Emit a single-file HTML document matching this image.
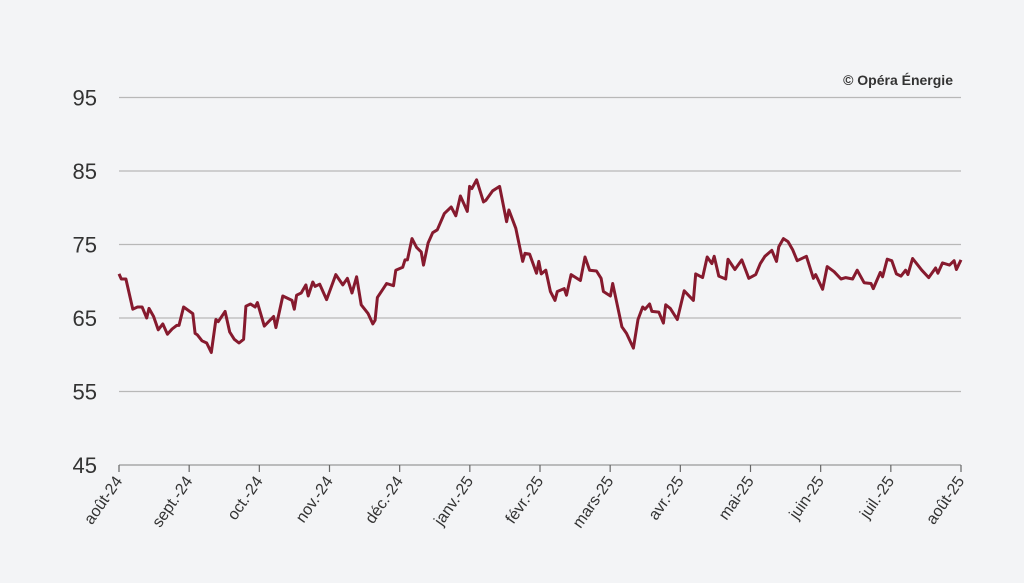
<!DOCTYPE html>
<html><head><meta charset="utf-8"><style>
html,body{margin:0;padding:0;background:#f3f4f6;}
svg{display:block;font-family:"Liberation Sans",sans-serif;}
</style></head><body>
<svg id="chart" width="1024" height="583" viewBox="0 0 1024 583" xmlns="http://www.w3.org/2000/svg">
<rect x="0" y="0" width="1024" height="583" fill="#f3f4f6"/>
<text x="953" y="85" text-anchor="end" font-size="14" font-weight="bold" fill="#333">© Opéra Énergie</text>
<g id="grid"></g><g id="yaxis"></g><g id="xaxis"></g><g id="series"></g>
</svg>
<script>
const yTicks=[45,55,65,75,85,95];
const monthLabels=["août-24","sept.-24","oct.-24","nov.-24","déc.-24","janv.-25","févr.-25","mars-25","avr.-25","mai-25","juin-25","juil.-25","août-25"];
const days=[0,1,3,6,8,10,12,13,15,17,19,21,23,25,26,28,32,33,34,36,38,40,42,43,46,48,50,52,54,55,57,59,60,63,67,68,71,75,76,77,79,81,82,84,85,87,90,94,97,99,101,103,105,108,110,111,112,115,116,119,120,123,124,125,127,129,131,132,134,136,138,141,144,146,148,151,152,153,155,158,159,162,165,168,169,172,175,176,178,181,182,183,185,187,189,190,193,194,196,200,202,204,207,209,210,213,214,218,220,223,225,227,228,230,231,234,236,237,239,242,245,249,250,253,255,257,258,260,263,264,267,270,273,276,278,280,283,285,286,288,290,292,294,298,301,302,305,307,310,313,315,318,320,323,326,327,330,331,333,335,337,339,341,342,344,346,348,351,354,355,357,360,362,363,365];
const values=[71.0,70.3,70.3,66.2,66.5,66.5,65.0,66.3,65.2,63.4,64.2,62.8,63.5,64.0,64.0,66.5,65.6,62.9,62.7,61.9,61.6,60.3,64.8,64.5,65.9,63.1,62.1,61.6,62.1,66.6,66.9,66.5,67.1,63.9,65.2,63.7,68.0,67.4,66.2,68.1,68.4,69.5,68.0,69.9,69.3,69.6,67.5,70.9,69.5,70.4,68.4,70.6,66.8,65.6,64.2,64.7,67.8,69.2,69.7,69.4,71.5,71.9,72.9,72.9,75.8,74.6,74.0,72.2,75.2,76.6,77.0,79.2,80.1,78.9,81.6,79.5,82.9,82.6,83.8,80.8,81.0,82.3,82.9,78.1,79.7,77.2,72.7,73.8,73.7,71.1,72.7,71.0,71.5,68.6,67.4,68.6,69.0,68.1,70.9,70.1,73.3,71.5,71.4,70.4,68.6,68.0,69.7,63.8,62.9,60.9,64.8,66.5,66.2,66.9,65.9,65.8,64.3,66.8,66.3,64.8,68.7,67.4,71.0,70.5,73.3,72.4,73.4,70.7,70.3,73.0,71.6,72.9,70.4,70.9,72.4,73.4,74.2,72.7,74.7,75.8,75.4,74.3,72.8,73.4,70.4,70.9,68.9,72.0,71.3,70.3,70.5,70.3,71.5,69.8,69.7,69.0,71.2,70.6,73.0,72.8,71.0,70.7,71.5,70.9,73.1,72.3,71.5,70.5,71.8,71.1,72.5,72.2,72.8,71.6,72.9];
const NS="http://www.w3.org/2000/svg";
const X0=119,X1=961,Y45=465,PXU=7.35;
function xs(d){return X0+(X1-X0)*d/365;}
function ys(v){return Y45-(v-45)*PXU;}
function mk(t,a){const e=document.createElementNS(NS,t);for(const k in a)e.setAttribute(k,a[k]);return e;}
const grid=document.getElementById('grid'),ya=document.getElementById('yaxis'),xa=document.getElementById('xaxis'),se=document.getElementById('series');
yTicks.forEach(v=>{
  if(v>45){const l=mk('line',{x1:X0,x2:X1,y1:ys(v),y2:ys(v),stroke:'#b8b8b8','stroke-width':1.2});
  
  
  grid.appendChild(l);}
  const t=mk('text',{x:97,y:ys(v)+8,'text-anchor':'end','font-size':22,fill:'#333'});
  
  
  t.textContent=v;ya.appendChild(t);
});
const ax=mk('line',{x1:X0,x2:X1,y1:Y45,y2:Y45,stroke:'#999','stroke-width':1.2});


xa.appendChild(ax);
monthLabels.forEach((m,i)=>{
  const x=X0+(X1-X0)*i/12;
  const tk=mk('line',{x1:x,x2:x,y1:Y45,y2:Y45+7,stroke:'#666','stroke-width':1.2});
  
  
  xa.appendChild(tk);
  const t=mk('text',{x:x+4,y:Y45+16,'text-anchor':'end','font-size':16,fill:'#333',transform:'rotate(-55 '+(x+4)+' '+(Y45+16)+')'});
  
  
  t.textContent=m;xa.appendChild(t);
});
const p=mk('polyline',{points:days.map((d,i)=>xs(d).toFixed(1)+','+ys(values[i]).toFixed(1)).join(' '),fill:'none',stroke:'#861a2e','stroke-width':3,'stroke-linejoin':'round'});


se.appendChild(p);
</script>
</body></html>
